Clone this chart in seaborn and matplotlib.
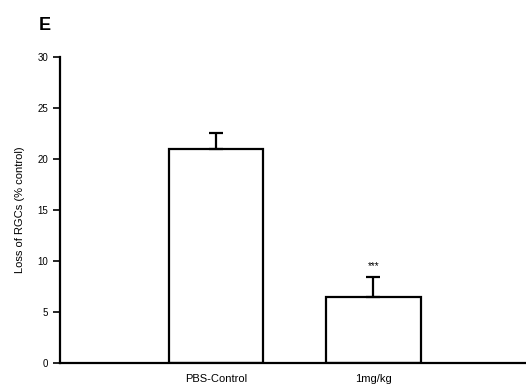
import matplotlib
matplotlib.use("Agg")
import matplotlib.pyplot as plt
import seaborn as sns
import pandas as pd

groups = ["PBS-Control", "1mg/kg"]
loss = [21.0, 6.5]
sem = [1.6, 1.9]
signif = ["", "***"]
yticks = [0, 5, 10, 15, 20, 25, 30]

sns.set_style("ticks")
plt.rcParams["font.family"] = ["Liberation Sans", "DejaVu Sans"]
plt.rcParams["text.color"] = "black"
plt.rcParams["axes.labelcolor"] = "black"
plt.rcParams["xtick.color"] = "black"
plt.rcParams["ytick.color"] = "black"
plt.rcParams["axes.edgecolor"] = "black"

df = pd.DataFrame({"group": groups, "loss": loss})

fig = plt.figure(figsize=(5.26, 3.89), dpi=100)
ax = fig.add_axes([0.114, 0.067, 0.886, 0.786])

sns.barplot(data=df, x="group", y="loss", color="white", edgecolor="black",
            linewidth=1.6, width=0.6, errorbar=None, ax=ax)
pos = list(range(len(groups)))
ax.errorbar(pos, loss, yerr=[[0] * len(sem), sem], fmt="none", ecolor="black",
            elinewidth=1.6, capsize=5, capthick=1.6)
for x, v, e, s in zip(pos, loss, sem, signif):
    if s:
        ax.text(x, v + e + 0.6, s, ha="center", va="bottom", fontsize=7)

ax.set_xlim(-0.99, 1.97)
ax.set_ylim(0, 30)
ax.set_yticks(yticks)
ax.tick_params(axis="y", length=5, width=1.2, labelsize=7, direction="out")
ax.tick_params(axis="x", length=0, labelsize=8, pad=8)
ax.set_xlabel("")
ax.set_ylabel("Loss of RGCs (% control)", fontsize=8)
for side in ["top", "right"]:
    ax.spines[side].set_visible(False)
for side in ["left", "bottom"]:
    ax.spines[side].set_linewidth(1.6)
ax.yaxis.set_label_coords(-0.075, 0.5)

fig.text(0.074, 0.935, "E", fontsize=13, fontweight="bold", ha="left", va="center")

fig.savefig("out.png", dpi=100)
